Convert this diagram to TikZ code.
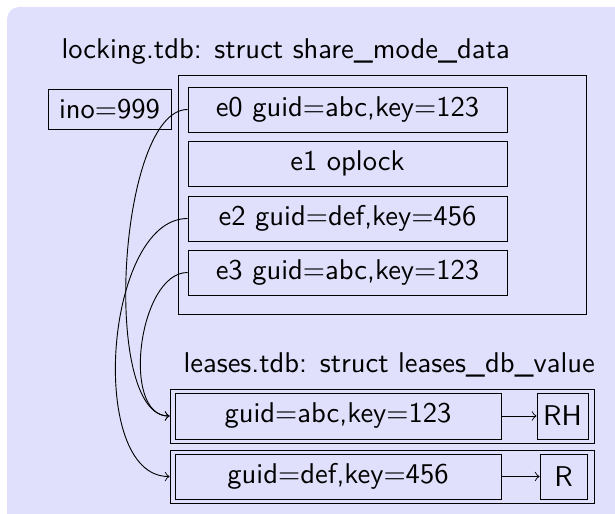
\documentclass[tikz,border=0pt]{standalone}
\def\pxu{0.35pt}
\definecolor{panel}{RGB}{224,224,252}
\begin{document}
\begin{tikzpicture}[x=0.35pt,y=-0.35pt,
  font=\sffamily\fontsize{10}{12}\selectfont,
  rec/.style={draw, line width=0.32pt, inner sep=0pt, align=center},
  link/.style={draw, line width=0.32pt, ->}]
\useasboundingbox (0,0) rectangle (615,514);
\begin{scope}
  \clip (0,0) rectangle (615,514);
  \fill[panel, rounded corners=4.2pt] (7,7) rectangle (660,560);
\end{scope}

% locking.tdb record
\node[anchor=base west, inner sep=0pt] (ttl) at (61,59) {locking.tdb: struct share\_mode\_data};
\node[rec, minimum width=408*\pxu, minimum height=239*\pxu] (smd) at (382,194.5) {};
\node[rec, minimum width=123*\pxu, minimum height=40*\pxu] (ino) at (109.5,109) {ino=999};
\node[rec, minimum width=319*\pxu, minimum height=45*\pxu] (e0) at (347.5,109.5) {e0 guid=abc,key=123};
\node[rec, minimum width=319*\pxu, minimum height=45*\pxu] (e1) at (347.5,163.5) {e1 oplock};
\node[rec, minimum width=319*\pxu, minimum height=45*\pxu] (e2) at (347.5,218.5) {e2 guid=def,key=456};
\node[rec, minimum width=319*\pxu, minimum height=45*\pxu] (e3) at (347.5,272.5) {e3 guid=abc,key=123};

% leases.tdb records
\node[anchor=base west, inner sep=0pt] (lttl) at (183,372) {leases.tdb: struct leases\_db\_value};
\node[rec, minimum width=424*\pxu, minimum height=54*\pxu] (l1) at (382,416) {};
\node[rec, minimum width=326*\pxu, minimum height=46*\pxu] (k1) at (338,416) {guid=abc,key=123};
\node[rec, minimum width=51*\pxu, minimum height=46*\pxu] (rh) at (562.5,416) {RH};
\node[rec, minimum width=424*\pxu, minimum height=53*\pxu] (l2) at (382,476.5) {};
\node[rec, minimum width=326*\pxu, minimum height=45*\pxu] (k2) at (338,476.5) {guid=def,key=456};
\node[rec, minimum width=47*\pxu, minimum height=45*\pxu] (r) at (563.5,476.5) {R};

\draw[link] (k1.east) -- (rh.west);
\draw[link] (k2.east) -- (r.west);

% share mode entries pointing to lease records
\draw[link] (e0.west) .. controls +(-69,0) and +(-69,0) .. (l1.west);
\draw[link] (e2.west) .. controls +(-83,0) and +(-83,0) .. (l2.west);
\draw[link] (e3.west) .. controls +(-49,0) and +(-49,0) .. (l1.west);
\end{tikzpicture}
\end{document}
